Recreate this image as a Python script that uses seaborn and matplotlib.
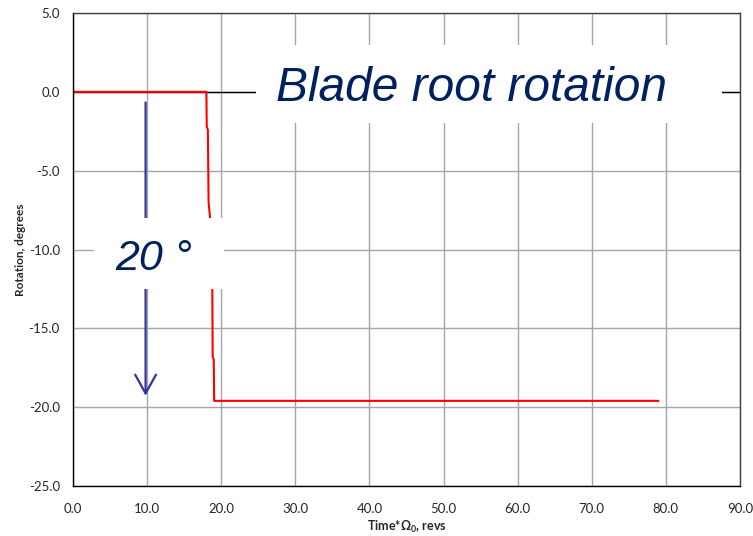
import seaborn as sns
import pandas as pd
import matplotlib.pyplot as plt
from matplotlib.patches import Rectangle

# blade root rotation time history
time_revs = [0.0, 18.0, 18.05, 18.2, 18.3, 18.5, 18.8, 18.85, 19.0, 19.05, 79.0]
rotation_deg = [0.0, 0.0, -2.2, -2.4, -7.0, -8.0, -12.6, -16.8, -17.0, -19.6, -19.6]

x_ticks = [0, 10, 20, 30, 40, 50, 60, 70, 80, 90]
y_ticks = [5, 0, -5, -10, -15, -20, -25]

df = pd.DataFrame({"time": time_revs, "rot": rotation_deg})

sns.set_style("white")
plt.rcParams["font.family"] = ["Lato", "DejaVu Sans"]
plt.rcParams["mathtext.default"] = "regular"

fig = plt.figure(figsize=(7.53, 5.36), dpi=100)
ax = fig.add_axes([0.0969, 0.0933, 0.8858, 0.8824])

sns.lineplot(data=df, x="time", y="rot", color="#ff0000", linewidth=1.5,
             sort=False, estimator=None, ax=ax, zorder=3)
ax.axhline(0, color="black", linewidth=1, zorder=2)

ax.set_xlim(0, 90)
ax.set_ylim(-25, 5)
ax.set_xticks(x_ticks)
ax.set_yticks(y_ticks)
ax.set_xticklabels([f"{v:.1f}" for v in x_ticks])
ax.set_yticklabels([f"{v:.1f}" for v in y_ticks])
ax.tick_params(labelsize=9.5, length=0)
ax.tick_params(axis="x", pad=12)
ax.tick_params(axis="y", pad=9.5)
ax.grid(True, color="#a6a6a6", linewidth=1)
ax.set_axisbelow(True)
for s in ax.spines.values():
    s.set_color("#404040")
    s.set_linewidth(1)
    s.set_zorder(6)
ax.spines["left"].set_color("black")
ax.spines["bottom"].set_color("black")

ax.set_xlabel("Time*Ω$_0$, revs", fontsize=9, fontweight="bold", labelpad=3)
ax.set_ylabel("Rotation, degrees", fontsize=8.5, fontweight="bold", labelpad=1.5)

# 20 degree arrow
ax.annotate("", xy=(9.8, -19.45), xytext=(9.8, -0.5),
            arrowprops=dict(arrowstyle="->,head_length=0.9,head_width=0.5",
                            color="#333399", lw=1.6, mutation_scale=15),
            zorder=3.5)

# white label boxes sitting over the grid
ax.add_patch(Rectangle((0.274, 0.767), 0.699, 0.165, transform=ax.transAxes,
                       facecolor="white", edgecolor="none", zorder=4))
ax.add_patch(Rectangle((0.0315, 0.4165), 0.1945, 0.1505, transform=ax.transAxes,
                       facecolor="white", edgecolor="none", zorder=4))

ax.text(0.597, 0.814, "Blade root rotation", transform=ax.transAxes,
        ha="center", va="baseline", fontsize=34.5, style="italic",
        family="Liberation Sans", color="#002060", zorder=5)
ax.text(0.063, 0.457, "20 °", transform=ax.transAxes,
        ha="left", va="baseline", fontsize=31, style="italic",
        family="Liberation Sans", color="#002060", zorder=5)

fig.savefig("out.png", dpi=100)
